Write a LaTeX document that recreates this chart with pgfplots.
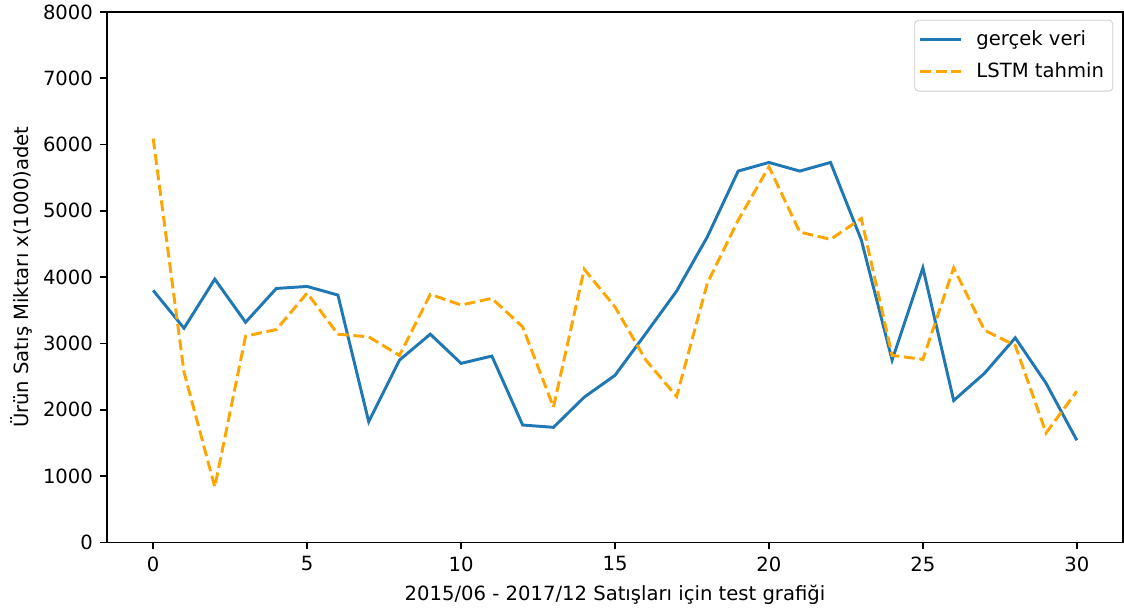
\documentclass[border=0pt]{standalone}
\usepackage{fontspec}
\setmainfont{DejaVu Sans}
\usepackage{pgfplots}
\pgfplotsset{compat=1.18}
\definecolor{mplblue}{HTML}{1F77B4}
\definecolor{mplorange}{HTML}{FFA500}
\begin{document}
\begin{tikzpicture}[font=\fontsize{10}{12}\selectfont]
  \begin{axis}[
    scale only axis,
    width=518.3pt,
    height=270.6pt,
    xmin=-1.5, xmax=31.5,
    ymin=0, ymax=8000,
    xtick={0,5,...,30},
    ytick={0,1000,...,8000},
    tick align=outside,
    major tick length=3.5pt,
    axis line style={line width=0.8pt},
    every tick/.style={black, line width=0.8pt},
    xtick pos=bottom, ytick pos=left,
    xticklabel style={inner sep=1pt, yshift=-2.5pt},
    yticklabel style={inner sep=1pt, xshift=-2.5pt},
    /pgf/number format/assume math mode=true,
    /pgf/number format/set thousands separator={},
    scaled y ticks=false,
    xlabel={2015/06 - 2017/12 Satışları için test grafiği},
    ylabel={Ürün Satış Miktarı x(1000)adet},
    xlabel style={yshift=-2.5pt},
    ylabel style={yshift=1pt},
    legend cell align=left,
    legend style={draw=black!20, rounded corners=2pt, inner xsep=2pt,
      inner ysep=3pt, row sep=2pt, column sep=4.5pt,
      at={(1,1)}, anchor=north east, xshift=-5pt, yshift=-4pt,
      nodes={inner sep=2.5pt}},
    legend image code/.code={\draw[#1] (0pt,0pt) -- (21pt,0pt);},
  ]
    \coordinate (ll) at (rel axis cs:0,0);
    \coordinate (ur) at (rel axis cs:1,1);
    \addplot[mplblue, line width=1.5pt] coordinates {
      (0,3800) (1,3230) (2,3970) (3,3320) (4,3830) (5,3860) (6,3730)
      (7,1820) (8,2750) (9,3140) (10,2700) (11,2810) (12,1770) (13,1735)
      (14,2190) (15,2520) (16,3150) (17,3790) (18,4610) (19,5600) (20,5730)
      (21,5600) (22,5730) (23,4560) (24,2750) (25,4140) (26,2140) (27,2550)
      (28,3085) (29,2400) (30,1540)
    };
    \addlegendentry{gerçek veri}
    \addplot[mplorange, line width=1.5pt, dash pattern=on 5.55pt off 2.4pt] coordinates {
      (0,6090) (1,2570) (2,835) (3,3110) (4,3210) (5,3760) (6,3140)
      (7,3100) (8,2820) (9,3740) (10,3580) (11,3680) (12,3250) (13,2040)
      (14,4120) (15,3550) (16,2750) (17,2200) (18,3910) (19,4860) (20,5665)
      (21,4680) (22,4570) (23,4885) (24,2820) (25,2760) (26,4140) (27,3200)
      (28,2970) (29,1650) (30,2280)
    };
    \addlegendentry{LSTM tahmin}
  \end{axis}
  \pgfresetboundingbox
  \path[use as bounding box] ([shift={(-54.6pt,-34.2pt)}]ll) rectangle ([shift={(0.5pt,6.1pt)}]ur);
\end{tikzpicture}
\end{document}
